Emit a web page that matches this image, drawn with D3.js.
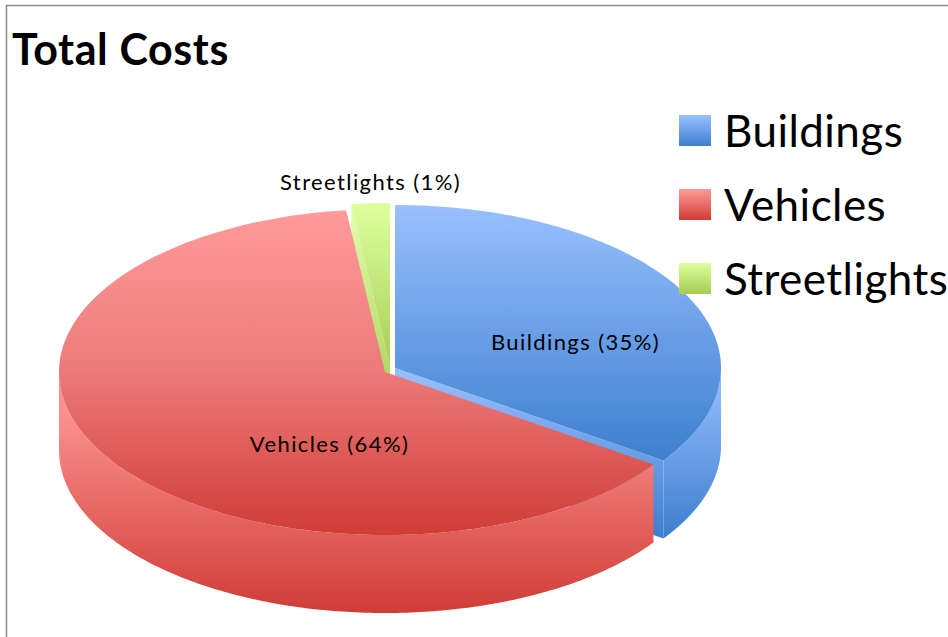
<!DOCTYPE html>
<html>
<head>
<meta charset="utf-8">
<style>
  html, body { margin: 0; padding: 0; background: #fff; overflow: hidden; }
  text { font-family: Lato, "Open Sans", sans-serif; fill: #000; }
</style>
<script src="https://cdn.jsdelivr.net/npm/d3@7/dist/d3.min.js"></script>
</head>
<body>
<svg id="chart" width="948" height="637"></svg>
<script>
const title = "Total Costs";
const categories = ["Buildings", "Vehicles", "Streetlights"];
// the label says 35/64/1 but the slices as drawn are a bit different, so keep both
const labelPercents = [35, 64, 1];
const sliceShares = [34.6, 63.5, 1.9];

const topColors = [["#99c0ff", "#6a9fe6", "#3d7fce"], ["#ff9b99", "#ec7a7a", "#d03c36"], ["#deff9e", "#c2e678", "#a6cd52"]];
const wallColors = [["#94bbfb", "#3d7fce"], ["#fb9290", "#d03c36"], ["#e4ffb0", "#b4d866"]];
const legendColors = [["#99c0ff", "#3d7fce"], ["#ff9b99", "#d03c36"], ["#deff9e", "#a6cd52"]];
const sliceCenters = [[395, 368], [385, 372], [390, 366]];
const labelSpots = [[575.5, 350], [329.5, 452], [370.5, 190]];
// vertical extent of each gradient, [y1, y2]
const topRanges = [[205, 461], [209, 535], [203, 372]];
const wallRanges = [[380, 537], [410, 613], [203, 372]];

const radiusX = 326, radiusY = 163, depth = 78;

const svg = d3.select("#chart");
const defs = svg.append("defs");

function gradient(id, colors, y1, y2, units) {
    const g = defs.append("linearGradient").attr("id", id)
        .attr("gradientUnits", units)
        .attr("x1", 0).attr("x2", 0).attr("y1", y1).attr("y2", y2);
    colors.forEach((c, k) => {
        g.append("stop").attr("offset", k / (colors.length - 1)).attr("stop-color", c);
    });
}

// chart frame, only left and top show in the crop
svg.append("rect").attr("x", 6.5).attr("y", 5.5).attr("width", 1000).attr("height", 700)
    .attr("fill", "#fff").attr("stroke", "#8c8c8c").attr("stroke-width", 1.5);

const slices = d3.pie().sort(null).value(d => d)(sliceShares);
const line = d3.line();

// tilted pie: unit circle -> ellipse, z pushes the point down
const scaleX = d3.scaleLinear().domain([-1, 1]).range([-radiusX, radiusX]);
const scaleY = d3.scaleLinear().domain([-1, 1]).range([-radiusY, radiusY]);

function rim(i, a, z) {
    const c = sliceCenters[i];
    return [c[0] + scaleX(Math.sin(a)), c[1] + z - scaleY(Math.cos(a))];
}

function arcPoints(i, a0, a1, z) {
    return d3.range(0, 181).map(k => rim(i, a0 + (a1 - a0) * k / 180, z));
}

function drawTop(i) {
    const c = sliceCenters[i];
    const pts = [c].concat(arcPoints(i, slices[i].startAngle, slices[i].endAngle, 0));
    svg.append("path").attr("d", line(pts) + "Z").attr("fill", "url(#top" + i + ")");
}

function drawWall(i) {
    // only the part of the rim that faces the viewer
    const a0 = Math.max(slices[i].startAngle, Math.PI / 2);
    const a1 = Math.min(slices[i].endAngle, Math.PI * 1.5);
    if (a1 <= a0) return;
    const pts = arcPoints(i, a0, a1, 0).concat(arcPoints(i, a1, a0, depth));
    svg.append("path").attr("d", line(pts) + "Z").attr("fill", "url(#wall" + i + ")");
}

function drawCut(i, a) {
    const c = sliceCenters[i];
    const pts = [c, rim(i, a, 0), rim(i, a, depth), [c[0], c[1] + depth]];
    svg.append("path").attr("d", line(pts) + "Z").attr("fill", "url(#wall" + i + ")");
}

categories.forEach((name, i) => {
    gradient("top" + i, topColors[i], topRanges[i][0], topRanges[i][1], "userSpaceOnUse");
    gradient("wall" + i, wallColors[i], wallRanges[i][0], wallRanges[i][1], "userSpaceOnUse");
    gradient("legend" + i, legendColors[i], 0, 1, "objectBoundingBox");
});

// back to front: blue and green first, red goes over their cut faces
drawCut(0, slices[0].endAngle);
drawWall(0);
drawTop(0);
drawCut(2, slices[2].startAngle);
drawTop(2);
drawWall(1);
drawTop(1);

// slice labels
categories.forEach((name, i) => {
    svg.append("text")
        .attr("x", labelSpots[i][0]).attr("y", labelSpots[i][1])
        .attr("text-anchor", "middle")
        .attr("font-size", 22)
        .attr("letter-spacing", 1.4)
        .text(name + " (" + labelPercents[i] + "%)");
});

// legend
const legendY = d3.scalePoint().domain(categories).range([115, 263]);
categories.forEach((name, i) => {
    const g = svg.append("g").attr("transform", "translate(679," + legendY(name) + ")");
    g.append("rect").attr("width", 32).attr("height", 31).attr("fill", "url(#legend" + i + ")");
    g.append("text").attr("x", 45).attr("y", 32)
        .attr("font-size", 44).attr("letter-spacing", 0.45).text(name);
});

svg.append("text").attr("x", 12).attr("y", 65)
    .attr("font-size", 43).attr("font-weight", 700).attr("letter-spacing", 0.6).text(title);
</script>
</body>
</html>
